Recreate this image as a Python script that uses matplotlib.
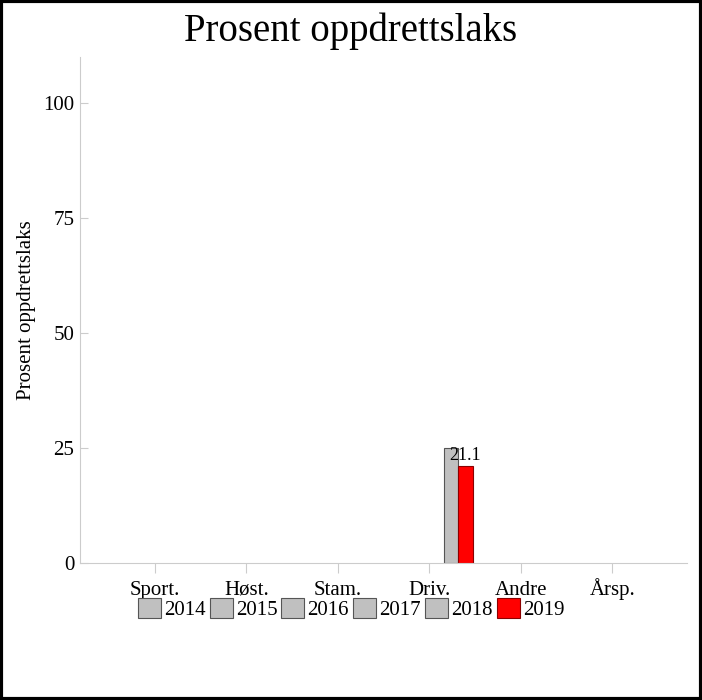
import matplotlib.pyplot as plt
import numpy as np

plt.rcParams['font.family'] = ['Liberation Serif', 'DejaVu Serif']

categories = ['Sport.', 'Høst.', 'Stam.', 'Driv.', 'Andre', 'Årsp.']
years = ['2014', '2015', '2016', '2017', '2018', '2019']
nan = np.nan
values = {
    '2014': [nan, nan, nan, nan, nan, nan],
    '2015': [nan, nan, nan, nan, nan, nan],
    '2016': [nan, nan, nan, nan, nan, nan],
    '2017': [nan, nan, nan, nan, nan, nan],
    '2018': [nan, nan, nan, 25.0, nan, nan],
    '2019': [nan, nan, nan, 21.1, nan, nan],
}
colors = ['#c0c0c0'] * 5 + ['#ff0000']
edges = ['#555555'] * 5 + ['#8b0000']

fig = plt.figure(figsize=(7.02, 7.00), dpi=100)
ax = fig.add_axes([0.114, 0.196, 0.865, 0.723])

x = np.arange(len(categories))
w = 0.158
for i, yr in enumerate(years):
    bars = ax.bar(x + (i - 2.5) * w, values[yr], w, color=colors[i],
                  edgecolor=edges[i], linewidth=0.8, label=yr)
    if yr == '2019':
        labs = ['' if np.isnan(v) else f'{v:.1f}' for v in values[yr]]
        ax.bar_label(bars, labels=labs, fontsize=13, padding=1)

ax.set_xlim(-0.82, 5.82)
ax.set_ylim(0, 110)
ax.set_yticks([0, 25, 50, 75, 100])
ax.set_xticks(x)
ax.set_xticklabels(categories, fontsize=15, va='baseline')
ax.tick_params(axis='y', direction='in', length=6, color='#cccccc', labelsize=15, pad=4)
ax.tick_params(axis='x', direction='out', length=7, color='#cccccc', pad=16)
for s in ['top', 'right']:
    ax.spines[s].set_visible(False)
for s in ['left', 'bottom']:
    ax.spines[s].set_color('#cccccc')
ax.set_ylabel('Prosent oppdrettslaks', fontsize=15, labelpad=5)

fig.suptitle('Prosent oppdrettslaks', fontsize=28, y=0.982)
fig.legend(loc='center', bbox_to_anchor=(0.5, 0.13), ncol=6, fontsize=15,
           frameon=False, handlelength=1.1, handleheight=1.1,
           handletextpad=0.15, columnspacing=0.2)

fig.patches.append(plt.Rectangle((0.002, 0.002), 0.996, 0.996, transform=fig.transFigure,
                                 fill=False, edgecolor='black', linewidth=3))

fig.savefig('out.png', dpi=100)
